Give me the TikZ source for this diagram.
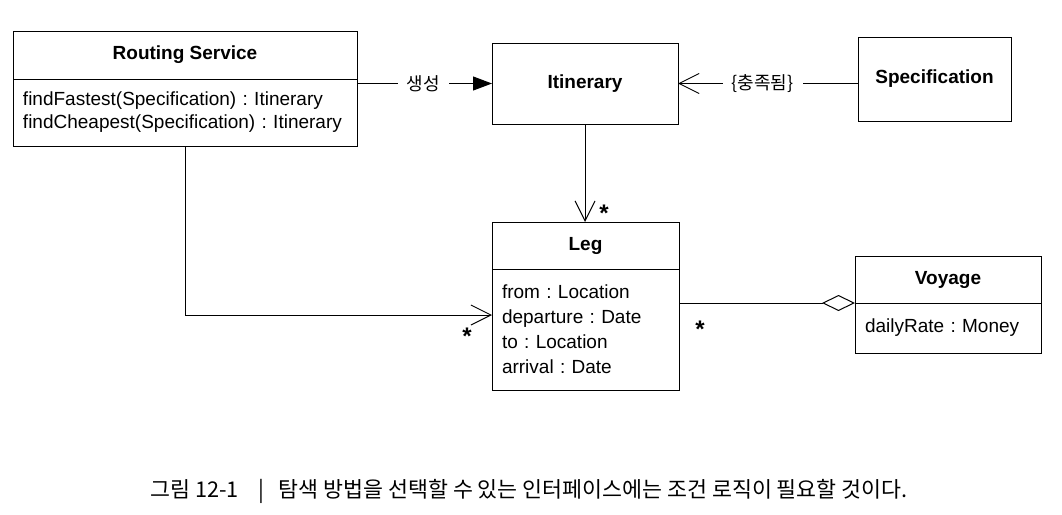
\documentclass[tikz,border=0pt]{standalone}
\usepackage{fontspec}
\setmainfont{Liberation Sans}
\newfontfamily\cjk{Noto Sans CJK KR}
\usetikzlibrary{arrows.meta,positioning}
\frenchspacing

\begin{document}
\begin{tikzpicture}[x=1pt, y=-1pt, line width=1pt, inner sep=0pt, outer sep=0pt,
    font=\fontsize{19}{24}\selectfont,
    classname/.style={draw, font=\fontsize{19}{24}\selectfont\bfseries},
    members/.style={draw, align=left, inner xsep=10pt},
    open/.style={-{Straight Barb[length=20pt, width=20pt]}},
    filled/.style={-{Triangle[length=19pt, width=14pt]}},
    agg/.style={-{Diamond[open, length=33pt, width=16pt]}},
    mult/.style={font=\fontsize{24}{24}\selectfont\bfseries, anchor=base},
    lbl/.style={fill=white, inner xsep=9pt, inner ysep=3pt, font=\cjk\fontsize{18}{22}\selectfont}]
    \useasboundingbox (0,0) rectangle (1062,514);

    % Classes
    \node [classname, minimum width=344pt, minimum height=48pt] (rs) at (185,55) {Routing Service};
    \node [members, text width=324pt, minimum height=67pt, below=0pt of rs, font=\fontsize{19}{23}\selectfont] (rsops)
        {findFastest(Specification) : Itinerary\\findCheapest(Specification) : Itinerary};
    \node [classname, minimum width=186pt, minimum height=81pt] (itin) at (585,83.5) {Itinerary};
    \node [classname, minimum width=153pt, minimum height=84pt] (spec) at (934.5,79) {Specification};
    \node [classname, minimum width=187pt, minimum height=47pt] (leg) at (585.5,245.5) {Leg};
    \node [members, text width=167pt, minimum height=121pt, below=0pt of leg, font=\fontsize{19}{25}\selectfont] (legattr)
        {from : Location\\departure : Date\\to : Location\\arrival : Date};
    \node [classname, minimum width=186pt, minimum height=47pt] (voy) at (948,279.5) {Voyage};
    \node [members, text width=166pt, minimum height=50pt, below=0pt of voy] (voyattr) {dailyRate : Money};

    % Multiplicities
    \node [mult] (mtop)   at (604,221) {*};
    \node [mult] (mleft)  at (467,344) {*};
    \node [mult] (mright) at (700,337) {*};

    % Paths
    \coordinate (legin) at (legattr.west |- 0,315);
    \draw [filled] (rs.east |- itin.west) -- node [lbl, pos=0.49] {생성} (itin.west);
    \draw [open] (spec.west |- itin.east) -- node [lbl, pos=0.53] {\{충족됨\}} (itin.east);
    \draw [open] (itin.south) -- (itin.south |- leg.north);
    \draw [open] (rsops.south) |- (legin);
    \draw [agg] (legattr.east |- voy.south) -- (voy.south west);

    % Caption
    \node [font=\cjk\fontsize{21.7}{24}\selectfont] (caption) at (529,491)
        {그림 12-1\hspace{20pt}|\hspace{14pt}탐색 방법을 선택할 수 있는 인터페이스에는 조건 로직이 필요할 것이다.};
\end{tikzpicture}
\end{document}
